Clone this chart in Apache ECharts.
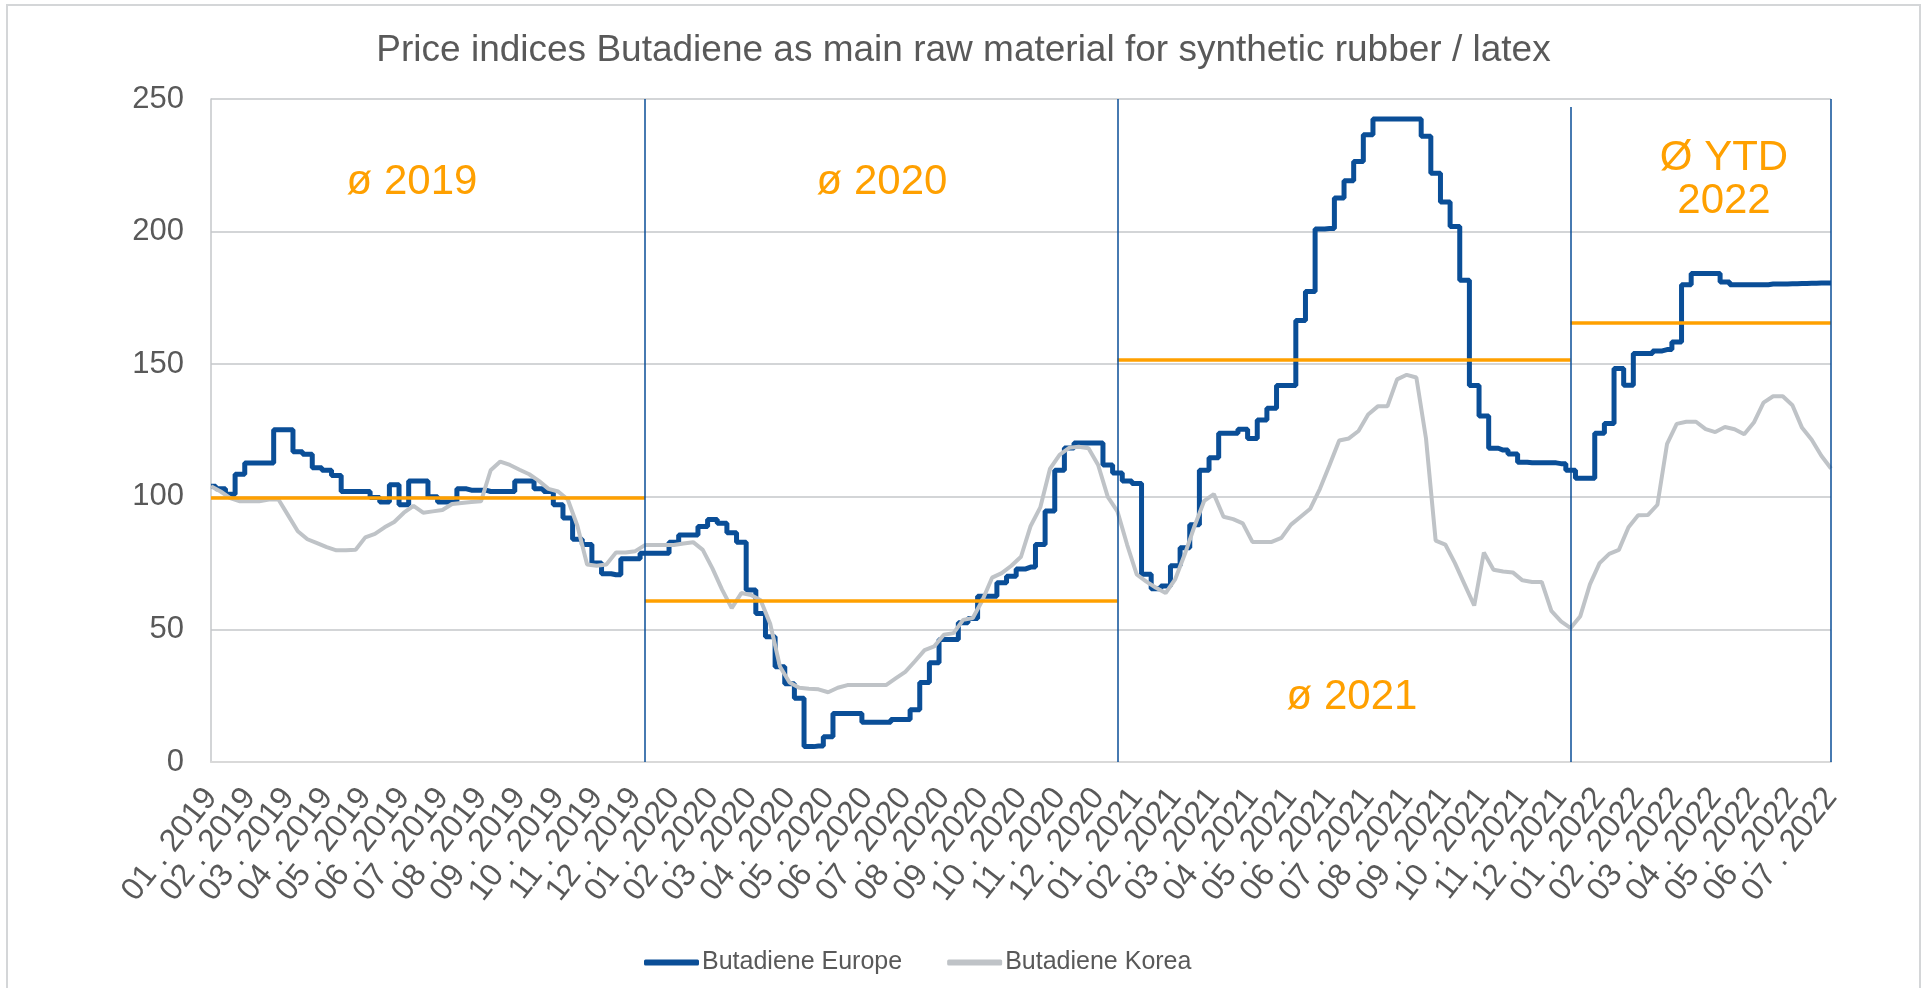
<!DOCTYPE html>
<html>
<head>
<meta charset="utf-8">
<title>Butadiene price indices</title>
<script src="https://cdn.jsdelivr.net/npm/echarts@6/dist/echarts.min.js"></script>
<style>
  * { margin: 0; padding: 0; }
  body { background: #fff; }
  #main { width: 1927px; height: 988px; }
</style>
</head>
<body>
<div id="main"></div>
<script>
// month labels on the x axis, one every 4 data points (weekly-ish values)
const tickLabels = [
  "01 . 2019", "02 . 2019", "03 . 2019", "04 . 2019", "05 . 2019", "06 . 2019",
  "07 . 2019", "08 . 2019", "09 . 2019", "10 . 2019", "11 . 2019", "12 . 2019",
  "01 . 2020", "02 . 2020", "03 . 2020", "04 . 2020", "05 . 2020", "06 . 2020",
  "07 . 2020", "08 . 2020", "09 . 2020", "10 . 2020", "11 . 2020", "12 . 2020",
  "01 . 2021", "02 . 2021", "03 . 2021", "04 . 2021", "05 . 2021", "06 . 2021",
  "07 . 2021", "08 . 2021", "09 . 2021", "10 . 2021", "11 . 2021", "12 . 2021",
  "01 . 2022", "02 . 2022", "03 . 2022", "04 . 2022", "05 . 2022", "06 . 2022",
  "07 . 2022"
];
const pointsPerMonth = 4;

const europe = [
  104, 103, 101, 108.5, 112.7, 112.7, 112.7, 125.3, 125.3, 117,
  116, 111, 110, 108, 102, 102, 102, 99.7, 98, 104.5,
  97, 106, 106, 100, 98, 98, 103, 102.5, 102.5, 102,
  102, 102, 106, 106, 103, 102, 97, 92, 84, 82,
  75, 71, 70.6, 76.6, 76.6, 78.7, 78.7, 78.7, 82.9, 85.6,
  85.6, 88.8, 91.4, 90, 86.4, 82.9, 64.9, 56, 47.2, 35.9,
  29.5, 24, 5.8, 6, 9.5, 18.3, 18.3, 18.3, 15, 15,
  15, 16, 16, 19.7, 30, 37.4, 46.2, 46.2, 52.5, 54.1,
  62.5, 62.5, 67.6, 70, 72.8, 73.5, 82, 94.6, 110, 118.4,
  120.3, 120.3, 120.3, 112, 109, 106, 105, 70.8, 65.3, 66.4,
  74, 80.8, 89.5, 110, 114.7, 124, 124, 125.5, 122, 129,
  133.4, 142, 142, 166.5, 177.4, 201, 201.2, 212.7, 219.2, 226.4,
  236.5, 242.5, 242.5, 242.5, 242.5, 242.5, 236, 222, 211.2, 201.9,
  181.7, 142, 130.5, 118.3, 117.6, 116.1, 113, 112.8, 112.8, 112.8,
  112.5, 110, 107, 107, 124, 127.6, 148.4, 142.1, 154, 154,
  155, 155.5, 158.4, 180, 184.2, 184.2, 184.2, 181, 180, 180,
  180, 180, 180.2, 180.2, 180.3, 180.4, 180.5, 180.6, 180.6
];

const korea = [
  104, 102, 99.5, 98.3, 98.3, 98.3, 99, 99, 93, 87,
  84, 82.5, 81, 79.8, 79.8, 80, 84.7, 86, 88.5, 90.5,
  94, 96.6, 94, 94.5, 95, 97.3, 97.7, 98, 98.3, 110,
  113.3, 112, 110.2, 108.5, 106, 103, 102, 99, 89, 74.5,
  74, 74.5, 79, 79, 79.5, 81.8, 81.8, 81.8, 81.8, 82.4,
  82.9, 80, 73, 65, 58, 63.7, 63, 61, 52, 36,
  30, 28, 27.6, 27.4, 26.3, 28, 29, 29, 29, 29,
  29, 31.5, 34, 38, 42.2, 43.6, 48, 48.6, 53.6, 54.3,
  61, 69.5, 71.2, 74, 77.4, 89, 96, 110.5, 115.8, 118.5,
  118.9, 118.3, 112, 100, 94.5, 82, 70.7, 68, 65.7, 63.7,
  69, 78.5, 89, 98.5, 101, 92.5, 91.6, 90, 83, 83,
  83, 84.5, 89.5, 92.5, 95.5, 103, 112, 121.2, 122, 124.8,
  131, 134.1, 134.1, 144.3, 146, 145, 122, 83.5, 82, 75,
  67, 59, 79, 72.5, 71.8, 71.5, 68.5, 67.9, 67.9, 57,
  53, 50.5, 55, 67, 75, 78.5, 80, 88.5, 93, 93.1,
  97, 120, 127.5, 128.3, 128.3, 125.5, 124.4, 126.3, 125.5, 123.6,
  128, 135.5, 137.9, 137.9, 134.5, 126, 121.5, 115.5, 110.7
];

// year boundaries (data point index), where each boundary line starts, and yearly averages of Butadiene Europe
const yearBreaks = [0, 45, 94, 141, 168];
const yearLineTops = [250, 250, 247, 250];
const yearAverages = [99.8, 60.8, 151.6, 165.5];
const averageLabels = ["ø 2019", "ø 2020", "ø 2021", "Ø YTD\n2022"];

const categories = [];
for (let i = 0; i < europe.length; i++) {
  categories.push(tickLabels[Math.floor(i / pointsPerMonth)] + " #" + (i % pointsPerMonth));
}

const blue = "#0A4E97";
const grey = "#BFC3C7";
const orange = "#FFA000";
const textGrey = "#595959";
const font = "'Liberation Sans', Arial, sans-serif";

const avgLines = yearAverages.map(function (v, k) {
  return [
    { coord: [yearBreaks[k], v] },
    { coord: [yearBreaks[k + 1], v] }
  ];
});
const yearLines = yearBreaks.slice(1).map(function (b, k) {
  return [
    { coord: [b, yearLineTops[k]] },
    { coord: [b, 0] }
  ];
});

function avgText(x, y, text) {
  return {
    type: "text", x: x, y: y, silent: true,
    style: { text: text, fill: orange, fontSize: 42, lineHeight: 43, fontFamily: font, align: "center", verticalAlign: "middle" }
  };
}

const chart = echarts.init(document.getElementById("main"));
chart.setOption({
  animation: false,
  textStyle: { fontFamily: font },
  title: {
    text: "Price indices Butadiene as main raw material for synthetic rubber / latex",
    left: "center",
    top: 27,
    textStyle: { color: textGrey, fontSize: 37, fontWeight: "normal", fontFamily: font }
  },
  legend: {
    left: 639,
    top: 945,
    itemWidth: 55,
    itemHeight: 6,
    itemGap: 45,
    icon: "roundRect",
    textStyle: { color: textGrey, fontSize: 25, fontFamily: font, padding: [0, 0, 0, -2] },
    data: ["Butadiene Europe", "Butadiene Korea"]
  },
  grid: {
    left: 211,
    right: 96,
    top: 99,
    bottom: 226,
    outerBoundsMode: "none"
  },
  xAxis: {
    type: "category",
    boundaryGap: false,
    data: categories,
    axisTick: { show: false },
    axisLine: { lineStyle: { color: "#D9D9D9", width: 2 } },
    axisLabel: {
      // every category gets a label slot, only month starts carry text
      interval: 0,
      rotate: 52,
      margin: 30,
      color: textGrey,
      fontSize: 32,
      fontFamily: font,
      formatter: function (value, index) {
        return index % pointsPerMonth === 0 ? tickLabels[index / pointsPerMonth] : "";
      }
    },
    splitLine: { show: false }
  },
  yAxis: {
    type: "value",
    min: 0,
    max: 250,
    interval: 50,
    axisLine: { show: true, lineStyle: { color: "#C4C7CA", width: 1.5 } },
    axisTick: { show: false },
    axisLabel: { color: textGrey, fontSize: 31, margin: 27, fontFamily: font },
    splitLine: { lineStyle: { color: "#C4C7CA", width: 1.5 } }
  },
  graphic: [
    {
      type: "rect",
      silent: true,
      shape: { x: 7, y: 5, width: 1913, height: 1000 },
      style: { fill: "none", stroke: "#D4D6D8", lineWidth: 2 }
    },
    avgText(412, 182, averageLabels[0]),
    avgText(882, 182, averageLabels[1]),
    avgText(1352, 697, averageLabels[2]),
    avgText(1724, 180, averageLabels[3])
  ],
  series: [
    {
      name: "Butadiene Europe",
      type: "line",
      data: europe,
      step: "middle",
      showSymbol: false,
      symbol: "none",
      lineStyle: { color: blue, width: 5 },
      itemStyle: { color: blue },
      markLine: {
        silent: true,
        symbol: ["none", "none"],
        label: { show: false },
        lineStyle: { color: orange, width: 3.5, type: "solid" },
        data: avgLines
      },
      z: 3
    },
    {
      name: "Butadiene Korea",
      type: "line",
      data: korea,
      showSymbol: false,
      symbol: "none",
      lineStyle: { color: grey, width: 4 },
      itemStyle: { color: grey },
      markLine: {
        silent: true,
        symbol: ["none", "none"],
        label: { show: false },
        lineStyle: { color: blue, width: 1.5, type: "solid" },
        data: yearLines
      },
      z: 4
    }
  ]
});
</script>
</body>
</html>
